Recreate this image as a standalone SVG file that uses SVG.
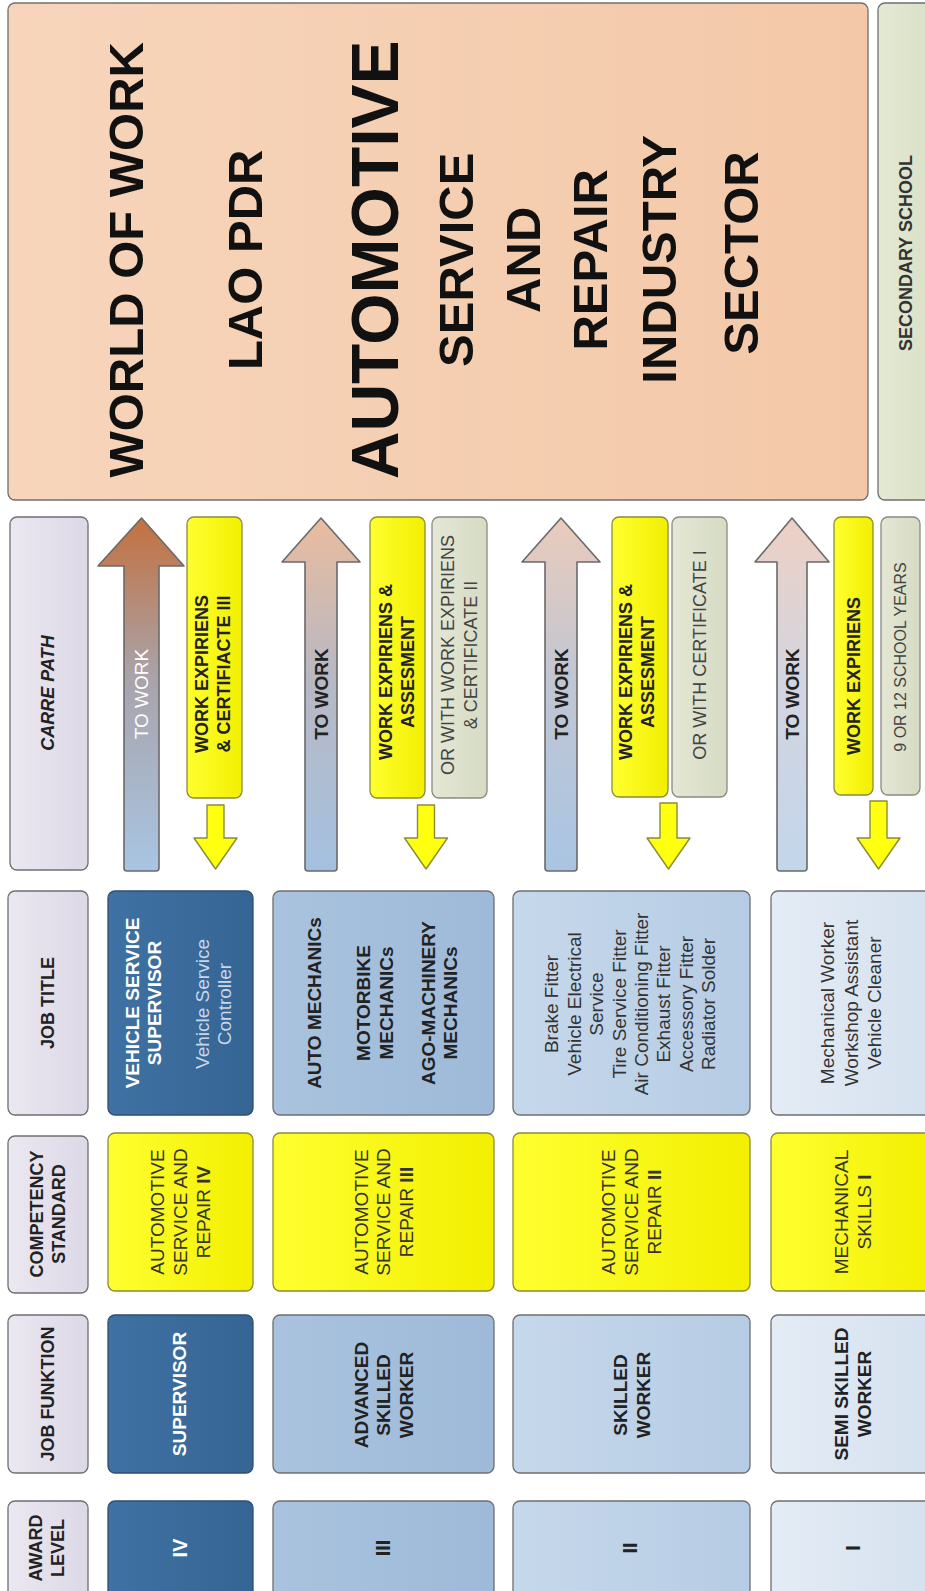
<svg xmlns="http://www.w3.org/2000/svg" width="925" height="1591" viewBox="0 0 925 1591">
<defs>
<style>
text{font-family:"Liberation Sans",Arial,sans-serif}
.b{font-weight:bold}
.r{font-weight:normal}
.box{stroke:#6f6f6f;stroke-width:1.3}
.hdr{fill:url(#gHdr)}
.r4{fill:url(#gR4);stroke:#2d4f73;stroke-width:1.3}
.r3{fill:url(#gR3)}
.r2{fill:url(#gR2)}
.r1{fill:url(#gR1)}
.yel{fill:url(#gYel);stroke:#8b8b3c;stroke-width:1.3}
.gg{fill:url(#gGG);stroke:#8a8a80;stroke-width:1.3}
.arr{stroke:#6a6a6a;stroke-width:1.6;stroke-linejoin:round}
.darr{fill:#ffff10;stroke:#8b8b3c;stroke-width:1.4;stroke-linejoin:round}
.dk{fill:#222}
.wt{fill:#ffffff}
</style>
<linearGradient id="gHdr" x1="0" y1="0" x2="1" y2="0"><stop offset="0" stop-color="#ebe8f1"/><stop offset="1" stop-color="#dcd8e6"/></linearGradient>
<linearGradient id="gR4" x1="0" y1="0" x2="1" y2="0"><stop offset="0" stop-color="#3f71a4"/><stop offset="1" stop-color="#356593"/></linearGradient>
<linearGradient id="gR3" x1="0" y1="0" x2="1" y2="0"><stop offset="0" stop-color="#a9c3de"/><stop offset="1" stop-color="#9ebad8"/></linearGradient>
<linearGradient id="gR2" x1="0" y1="0" x2="1" y2="0"><stop offset="0" stop-color="#c6d8eb"/><stop offset="1" stop-color="#b6cce4"/></linearGradient>
<linearGradient id="gR1" x1="0" y1="0" x2="1" y2="0"><stop offset="0" stop-color="#e4ecf5"/><stop offset="1" stop-color="#d5e1ef"/></linearGradient>
<linearGradient id="gYel" x1="0" y1="0" x2="1" y2="0"><stop offset="0" stop-color="#ffff30"/><stop offset="1" stop-color="#f2ef00"/></linearGradient>
<linearGradient id="gGG" x1="0" y1="0" x2="1" y2="0"><stop offset="0" stop-color="#e4e7d5"/><stop offset="1" stop-color="#d6dbc3"/></linearGradient>
<linearGradient id="gPeach" x1="0" y1="0" x2="1" y2="0"><stop offset="0" stop-color="#f7d5bb"/><stop offset="1" stop-color="#f3c8a8"/></linearGradient>
<linearGradient id="gSec" x1="0" y1="0" x2="1" y2="0"><stop offset="0" stop-color="#e4e9d4"/><stop offset="1" stop-color="#d9e0c5"/></linearGradient>
<linearGradient id="gA4" x1="0" y1="0" x2="0" y2="1"><stop offset="0" stop-color="#c4703e"/><stop offset="0.45" stop-color="#a9a3aa"/><stop offset="1" stop-color="#a8c5e3"/></linearGradient>
<linearGradient id="gA3" x1="0" y1="0" x2="0" y2="1"><stop offset="0" stop-color="#e9bc9e"/><stop offset="0.45" stop-color="#b9b8c3"/><stop offset="1" stop-color="#a4c1e0"/></linearGradient>
<linearGradient id="gA2" x1="0" y1="0" x2="0" y2="1"><stop offset="0" stop-color="#eacbbb"/><stop offset="0.45" stop-color="#c2c6d3"/><stop offset="1" stop-color="#a9c5e3"/></linearGradient>
<linearGradient id="gA1" x1="0" y1="0" x2="0" y2="1"><stop offset="0" stop-color="#edd0c3"/><stop offset="0.45" stop-color="#d3d5e0"/><stop offset="1" stop-color="#c3d6eb"/></linearGradient>
</defs>
<rect width="925" height="1591" fill="#ffffff"/>

<!-- World of work -->
<g id="world-of-work">
<rect class="box" x="8" y="3" width="860" height="497" rx="7" fill="url(#gPeach)"/>
<text class="b" fill="#111" font-size="49" text-anchor="middle" transform="translate(0,253) rotate(-90)">
<tspan x="0" y="143.2">WORLD OF WORK</tspan>
<tspan x="0" y="262.2">LAO PDR</tspan>
<tspan x="0" y="397.6" font-size="66">AUTOMOTIVE</tspan>
<tspan x="0" y="473.2">SERVICE</tspan>
<tspan x="0" y="540.2">AND</tspan>
<tspan x="0" y="607.2">REPAIR</tspan>
<tspan x="0" y="676.2">INDUSTRY</tspan>
<tspan x="0" y="758.2">SECTOR</tspan>
</text>
</g>
<g id="secondary-school">
<rect class="box" x="878" y="3" width="60" height="497" rx="7" fill="url(#gSec)"/>
<text class="b" fill="#333" font-size="18" text-anchor="middle" transform="translate(0,253) rotate(-90)"><tspan x="0" y="912.4">SECONDARY SCHOOL</tspan></text>
</g>

<!-- Headers -->
<g id="hdr-carre">
<rect class="box hdr" x="10" y="517" width="78" height="353" rx="7"/>
<text class="b dk" font-size="18" font-style="italic" text-anchor="middle" transform="translate(0,693) rotate(-90)"><tspan x="0" y="54.4">CARRE PATH</tspan></text>
</g>
<g id="hdr-jobtitle">
<rect class="box hdr" x="8" y="891" width="80" height="224" rx="7"/>
<text class="b dk" font-size="18" text-anchor="middle" transform="translate(0,1003) rotate(-90)"><tspan x="0" y="54.4">JOB TITLE</tspan></text>
</g>
<g id="hdr-competency">
<rect class="box hdr" x="8" y="1136" width="80" height="157" rx="7"/>
<text class="b dk" font-size="18" text-anchor="middle" transform="translate(0,1214) rotate(-90)"><tspan x="0" y="42.9">COMPETENCY</tspan><tspan x="0" y="64.9">STANDARD</tspan></text>
</g>
<g id="hdr-jobfunktion">
<rect class="box hdr" x="8" y="1315" width="80" height="158" rx="7"/>
<text class="b dk" font-size="18" text-anchor="middle" transform="translate(0,1394) rotate(-90)"><tspan x="0" y="54.4">JOB FUNKTION</tspan></text>
</g>
<g id="hdr-award">
<rect class="box hdr" x="8" y="1501" width="80" height="110" rx="7"/>
<text class="b dk" font-size="18" text-anchor="middle" transform="translate(0,1548) rotate(-90)"><tspan x="0" y="42.4">AWARD</tspan><tspan x="0" y="64.4">LEVEL</tspan></text>
</g>

<!-- Row IV -->
<g id="award-iv">
<rect class="r4" x="108" y="1501" width="145" height="110" rx="7"/>
<text class="b wt" font-size="20" text-anchor="middle" transform="translate(0,1548) rotate(-90)"><tspan x="0" y="187">IV</tspan></text>
</g>
<g id="func-iv">
<rect class="r4" x="108" y="1315" width="145" height="158" rx="7"/>
<text class="b wt" font-size="19" text-anchor="middle" transform="translate(0,1394) rotate(-90)"><tspan x="0" y="185.7">SUPERVISOR</tspan></text>
</g>
<g id="comp-iv">
<rect class="yel" x="108" y="1133" width="145" height="158" rx="7"/>
<text class="r" fill="#333" font-size="19" text-anchor="middle" transform="translate(0,1212) rotate(-90)"><tspan x="0" y="163.7">AUTOMOTIVE</tspan><tspan x="0" y="186.7">SERVICE AND</tspan><tspan x="0" y="209.7">REPAIR <tspan class="b">IV</tspan></tspan></text>
</g>
<g id="title-iv">
<rect class="r4" x="108" y="891" width="145" height="224" rx="7"/>
<text class="b wt" font-size="19" text-anchor="middle" transform="translate(0,1003) rotate(-90)"><tspan x="0" y="138.7">VEHICLE SERVICE</tspan><tspan x="0" y="160.7">SUPERVISOR</tspan></text>
<text class="r" fill="#c9d7e8" font-size="19" text-anchor="middle" transform="translate(0,1004) rotate(-90)"><tspan x="0" y="208.7">Vehicle Service</tspan><tspan x="0" y="230.7">Controller</tspan></text>
</g>

<!-- Row III -->
<g id="award-iii">
<rect class="box r3" x="273" y="1501" width="221" height="110" rx="7"/>
<text class="b dk" font-size="20" text-anchor="middle" transform="translate(0,1548) rotate(-90)"><tspan x="0" y="390">III</tspan></text>
</g>
<g id="func-iii">
<rect class="box r3" x="273" y="1315" width="221" height="158" rx="7"/>
<text class="b dk" font-size="19" text-anchor="middle" transform="translate(0,1395) rotate(-90)"><tspan x="0" y="367.7">ADVANCED</tspan><tspan x="0" y="390.2">SKILLED</tspan><tspan x="0" y="412.7">WORKER</tspan></text>
</g>
<g id="comp-iii">
<rect class="yel" x="273" y="1133" width="221" height="158" rx="7"/>
<text class="r" fill="#333" font-size="19" text-anchor="middle" transform="translate(0,1212) rotate(-90)"><tspan x="0" y="367.7">AUTOMOTIVE</tspan><tspan x="0" y="390.2">SERVICE AND</tspan><tspan x="0" y="412.7">REPAIR <tspan class="b">III</tspan></tspan></text>
</g>
<g id="title-iii">
<rect class="box r3" x="273" y="891" width="221" height="224" rx="7"/>
<text class="b dk" font-size="19" text-anchor="middle" transform="translate(0,1003) rotate(-90)"><tspan x="0" y="320.7">AUTO MECHANICs</tspan><tspan x="0" y="369.7">MOTORBIKE</tspan><tspan x="0" y="392.7">MECHANICs</tspan><tspan x="0" y="434.7">AGO-MACHINERY</tspan><tspan x="0" y="456.7">MECHANICs</tspan></text>
</g>

<!-- Row II -->
<g id="award-ii">
<rect class="box r2" x="513" y="1501" width="237" height="110" rx="7"/>
<text class="b dk" font-size="20" text-anchor="middle" transform="translate(0,1548) rotate(-90)"><tspan x="0" y="637">II</tspan></text>
</g>
<g id="func-ii">
<rect class="box r2" x="513" y="1315" width="237" height="158" rx="7"/>
<text class="b dk" font-size="19" text-anchor="middle" transform="translate(0,1395) rotate(-90)"><tspan x="0" y="626.7">SKILLED</tspan><tspan x="0" y="649.7">WORKER</tspan></text>
</g>
<g id="comp-ii">
<rect class="yel" x="513" y="1133" width="237" height="158" rx="7"/>
<text class="r" fill="#333" font-size="19" text-anchor="middle" transform="translate(0,1212) rotate(-90)"><tspan x="0" y="615.2">AUTOMOTIVE</tspan><tspan x="0" y="638.2">SERVICE AND</tspan><tspan x="0" y="661.2">REPAIR <tspan class="b">II</tspan></tspan></text>
</g>
<g id="title-ii">
<rect class="box r2" x="513" y="891" width="237" height="224" rx="7"/>
<text class="r" fill="#333" font-size="19" text-anchor="middle" transform="translate(0,1004) rotate(-90)"><tspan x="0" y="558.3">Brake Fitter</tspan><tspan x="0" y="580.7">Vehicle Electrical</tspan><tspan x="0" y="603.1">Service</tspan><tspan x="0" y="625.5">Tire Service Fitter</tspan><tspan x="0" y="647.9">Air Conditioning Fitter</tspan><tspan x="0" y="670.3">Exhaust Fitter</tspan><tspan x="0" y="692.7">Accessory Fitter</tspan><tspan x="0" y="715.1">Radiator Solder</tspan></text>
</g>

<!-- Row I -->
<g id="award-i">
<rect class="box r1" x="771" y="1501" width="164" height="110" rx="7"/>
<text class="b dk" font-size="20" text-anchor="middle" transform="translate(0,1548) rotate(-90)"><tspan x="0" y="860">I</tspan></text>
</g>
<g id="func-i">
<rect class="box r1" x="771" y="1315" width="164" height="158" rx="7"/>
<text class="b dk" font-size="19" text-anchor="middle" transform="translate(0,1394) rotate(-90)"><tspan x="0" y="847.7">SEMI SKILLED</tspan><tspan x="0" y="870.7">WORKER</tspan></text>
</g>
<g id="comp-i">
<rect class="yel" x="771" y="1133" width="164" height="158" rx="7"/>
<text class="r" fill="#333" font-size="19" text-anchor="middle" transform="translate(0,1212) rotate(-90)"><tspan x="0" y="847.7">MECHANICAL</tspan><tspan x="0" y="870.7">SKILLS <tspan class="b">I</tspan></tspan></text>
</g>
<g id="title-i">
<rect class="box r1" x="771" y="891" width="164" height="224" rx="7"/>
<text class="r" fill="#333" font-size="19" text-anchor="middle" transform="translate(0,1003) rotate(-90)"><tspan x="0" y="833.7">Mechanical Worker</tspan><tspan x="0" y="857.7">Workshop Assistant</tspan><tspan x="0" y="880.7">Vehicle Cleaner</tspan></text>
</g>

<!-- Career path boxes -->
<g id="path-iv-req">
<rect class="yel" x="187" y="517" width="55" height="281" rx="7"/>
<text class="b dk" font-size="18" text-anchor="middle" transform="translate(0,674) rotate(-90)"><tspan x="0" y="208.4">WORK EXPIRIENS</tspan><tspan x="0" y="230.4">&amp; CERTIFIACTE III</tspan></text>
</g>
<g id="path-iii-req">
<rect class="yel" x="370" y="517" width="55" height="281" rx="7"/>
<text class="b dk" font-size="18" text-anchor="middle" transform="translate(0,672) rotate(-90)"><tspan x="0" y="392.4">WORK EXPIRIENS &amp;</tspan><tspan x="0" y="414.4">ASSESMENT</tspan></text>
</g>
<g id="path-iii-alt">
<rect class="gg" x="432" y="517" width="55" height="281" rx="7"/>
<text class="r" fill="#444" font-size="18" text-anchor="middle" transform="translate(0,655) rotate(-90)"><tspan x="0" y="454.4">OR WITH WORK EXPIRIENS</tspan><tspan x="0" y="477.4">&amp; CERTIFICATE II</tspan></text>
</g>
<g id="path-ii-req">
<rect class="yel" x="612" y="517" width="56" height="280" rx="7"/>
<text class="b dk" font-size="18" text-anchor="middle" transform="translate(0,672) rotate(-90)"><tspan x="0" y="632.4">WORK EXPIRIENS &amp;</tspan><tspan x="0" y="654.4">ASSESMENT</tspan></text>
</g>
<g id="path-ii-alt">
<rect class="gg" x="672" y="517" width="55" height="280" rx="7"/>
<text class="r" fill="#444" font-size="18" text-anchor="middle" transform="translate(0,655) rotate(-90)"><tspan x="0" y="705.9">OR WITH CERTIFICATE I</tspan></text>
</g>
<g id="path-i-req">
<rect class="yel" x="834" y="517" width="39" height="278" rx="7"/>
<text class="b dk" font-size="18" text-anchor="middle" transform="translate(0,676) rotate(-90)"><tspan x="0" y="859.9">WORK EXPIRIENS</tspan></text>
</g>
<g id="path-i-alt">
<rect class="gg" x="881" y="517" width="39" height="278" rx="7"/>
<text class="r" fill="#444" font-size="16" text-anchor="middle" transform="translate(0,657) rotate(-90)"><tspan x="0" y="906.1">9 OR 12 SCHOOL YEARS</tspan></text>
</g>

<!-- Connectors (arrows) -->
<g id="connectors">
<path class="arr" fill="url(#gA4)" d="M124,868 L124,566 L98,566 L141.5,518 L184,566 L159,566 L159,868 Q159,871 156,871 L127,871 Q124,871 124,868 Z"/>
<text class="r wt" font-size="19" text-anchor="middle" transform="translate(0,694) rotate(-90)"><tspan x="0" y="148.2">TO WORK</tspan></text>
<path class="arr" fill="url(#gA3)" d="M305,868 L305,562 L282,562 L321,518 L360,562 L337,562 L337,868 Q337,871 334,871 L308,871 Q305,871 305,868 Z"/>
<text class="b dk" font-size="19" text-anchor="middle" transform="translate(0,694) rotate(-90)"><tspan x="0" y="327.7">TO WORK</tspan></text>
<path class="arr" fill="url(#gA2)" d="M545,868 L545,562 L522,562 L561,518 L600,562 L577,562 L577,868 Q577,871 574,871 L548,871 Q545,871 545,868 Z"/>
<text class="b dk" font-size="19" text-anchor="middle" transform="translate(0,694) rotate(-90)"><tspan x="0" y="567.7">TO WORK</tspan></text>
<path class="arr" fill="url(#gA1)" d="M777,868 L777,562 L755,562 L792,518 L829,562 L807,562 L807,868 Q807,871 804,871 L780,871 Q777,871 777,868 Z"/>
<text class="b dk" font-size="19" text-anchor="middle" transform="translate(0,694) rotate(-90)"><tspan x="0" y="798.7">TO WORK</tspan></text>

<path class="darr" d="M207,805 L224,805 L224,838 L237,838 L215.5,869 L194,838 L207,838 Z"/>
<path class="darr" d="M417.5,805 L434.5,805 L434.5,838 L447.5,838 L426,869 L404.5,838 L417.5,838 Z"/>
<path class="darr" d="M660,803 L677,803 L677,838 L690,838 L668.5,869 L647,838 L660,838 Z"/>
<path class="darr" d="M870,801 L887,801 L887,838 L900,838 L878.5,869 L857,838 L870,838 Z"/>
</g>
</svg>
